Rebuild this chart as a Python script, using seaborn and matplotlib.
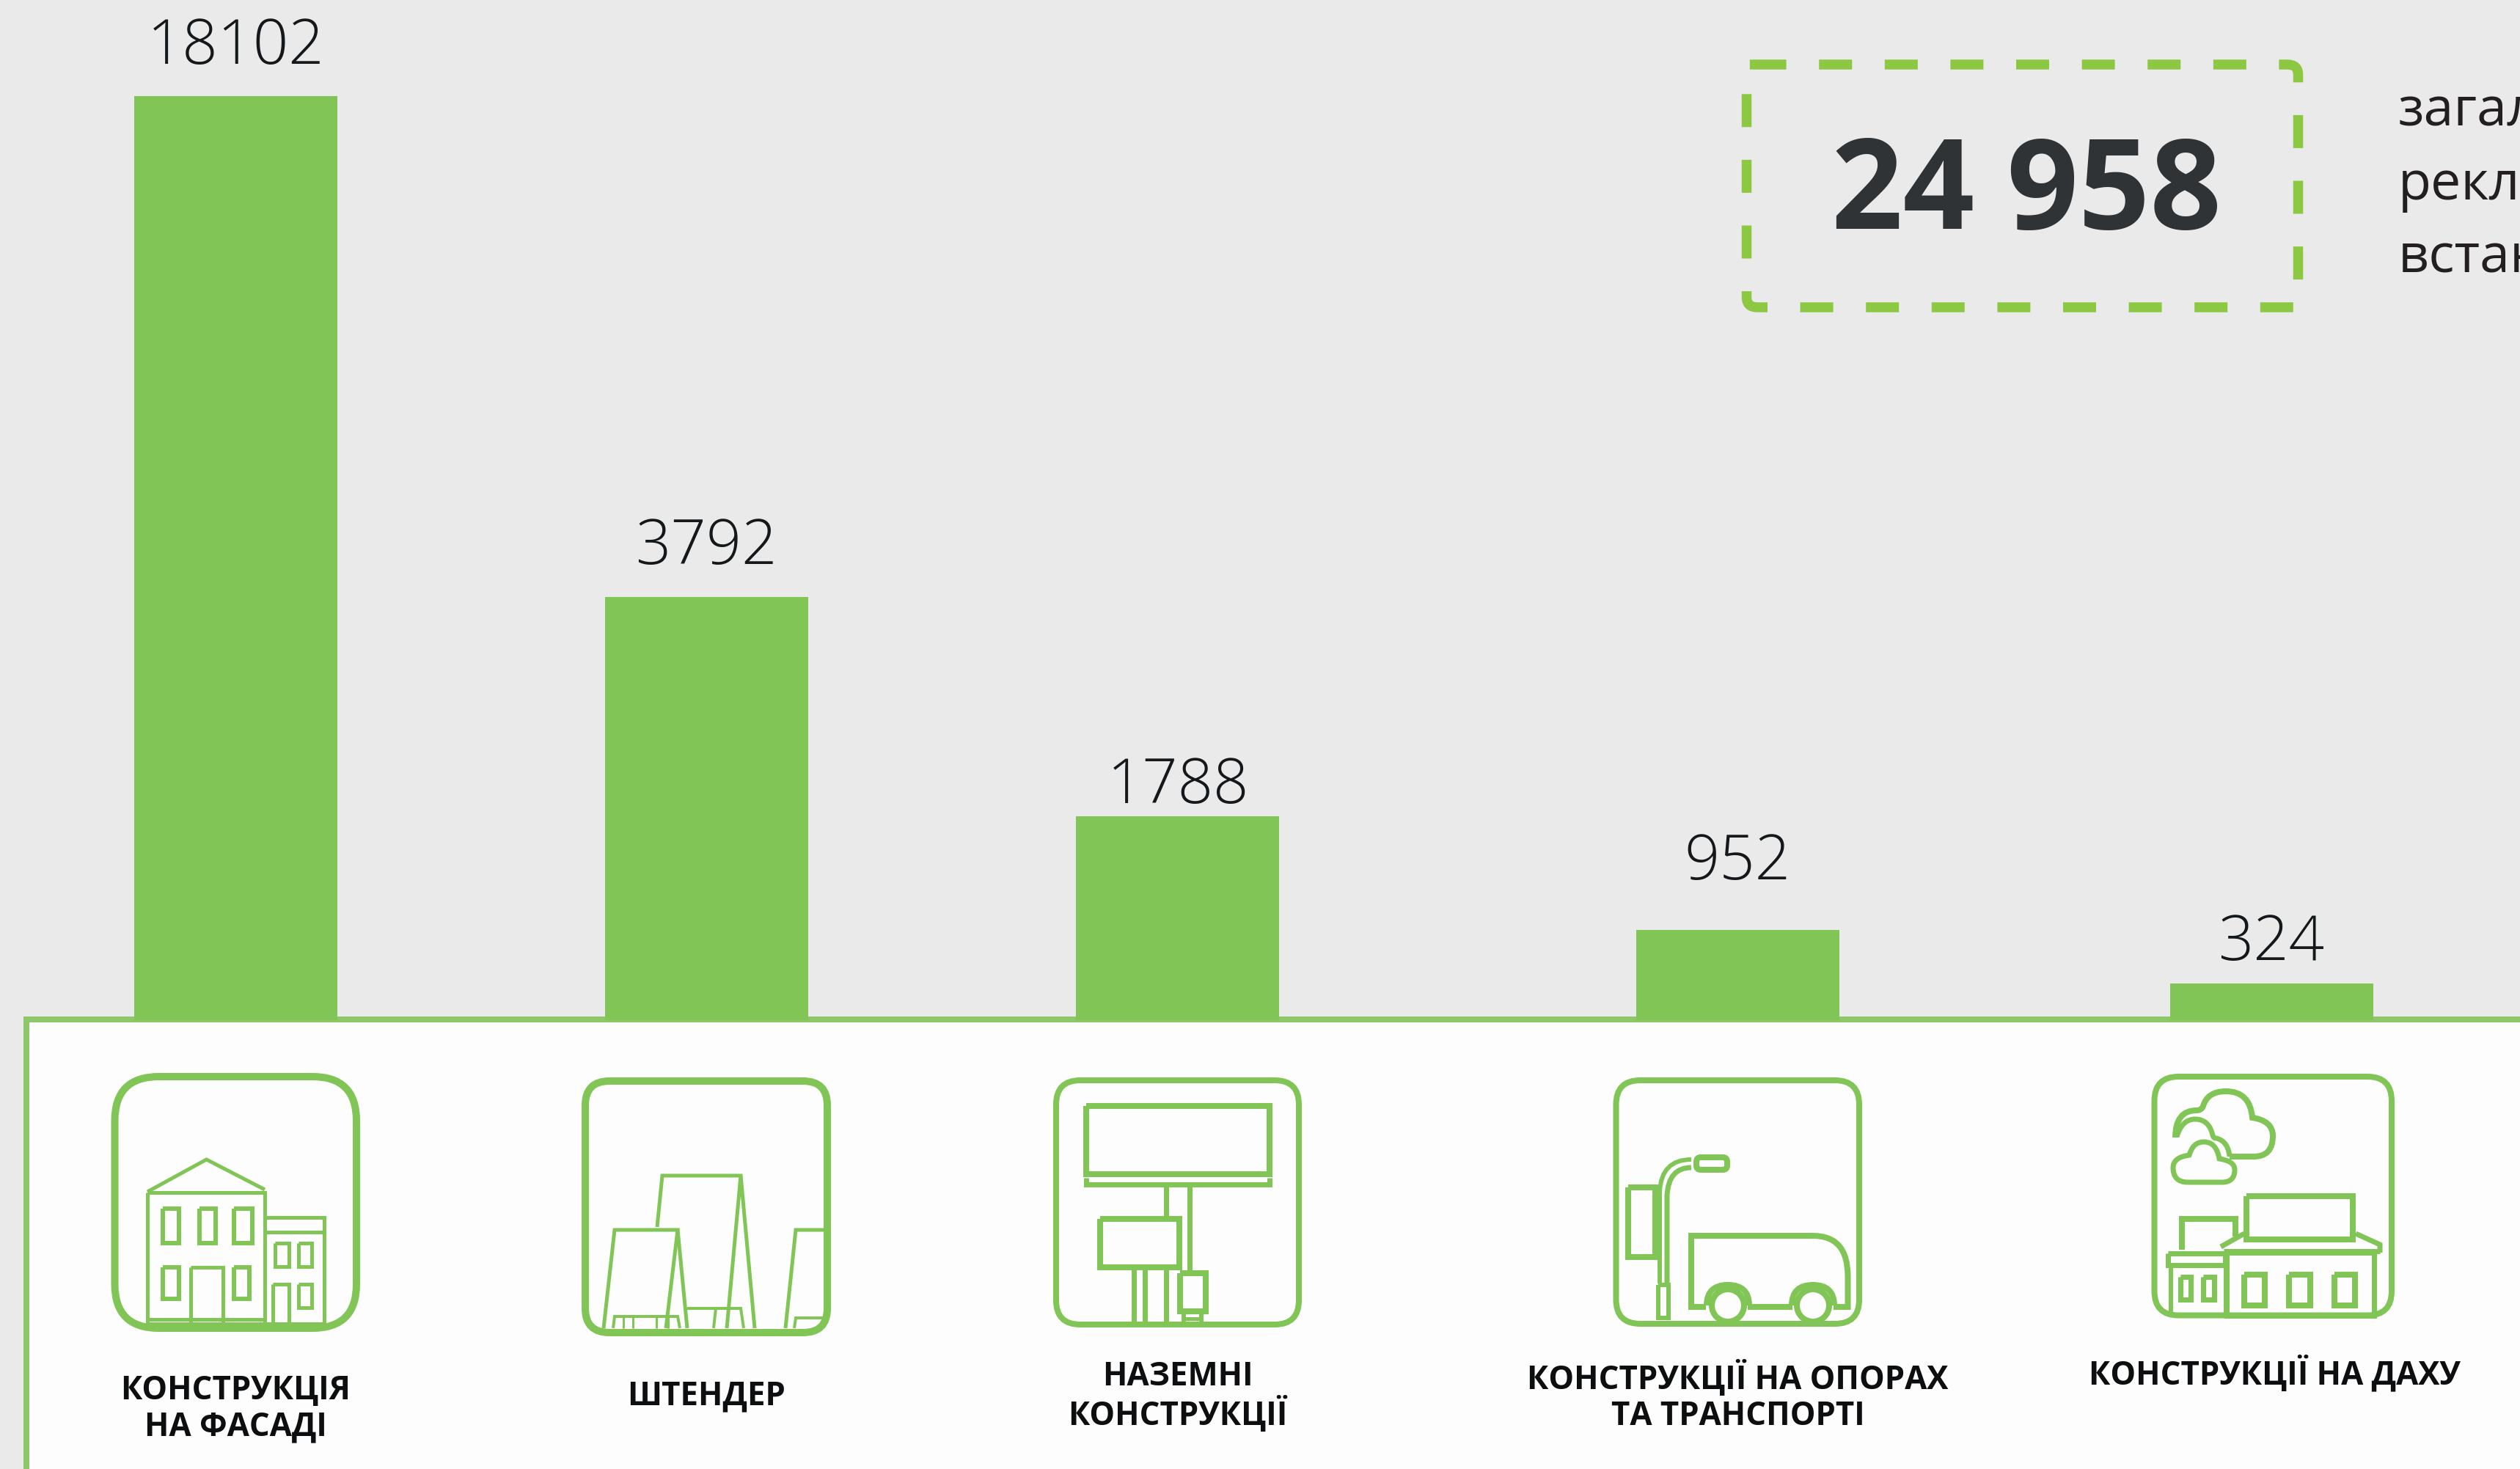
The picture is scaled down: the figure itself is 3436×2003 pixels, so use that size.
import matplotlib
matplotlib.use("Agg")
import matplotlib.pyplot as plt
from matplotlib.patches import Circle, FancyBboxPatch, PathPatch, Rectangle
from matplotlib.path import Path
import numpy as np
import pandas as pd
import seaborn as sns

# Data
categories = [
    "КОНСТРУКЦІЯ\nНА ФАСАДІ",
    "ШТЕНДЕР",
    "НАЗЕМНІ\nКОНСТРУКЦІЇ",
    "КОНСТРУКЦІЇ НА ОПОРАХ\nТА ТРАНСПОРТІ",
    "КОНСТРУКЦІЇ НА ДАХУ",
]
values = [18102, 3792, 1788, 952, 324]
total_label = "24 958"
# the reference crops these words at its right edge
side_text = ["загал", "рекл", "встан"]

# Layout (pixels of the 3437x2003 canvas)
W, H = 3437, 2003
BASE = 1391
bar_x = [321.5, 963.5, 1605.5, 2369.5, 3097.5]
value_x = [322, 963, 1607, 2369, 3097]
value_base = [87, 769, 1095, 1199, 1309]
label_x = [321.5, 963.5, 1605.5, 2369.5, 3101]
label_base = [1957, 1915, 1943, 1943, 1887]

# the bars in the original are not drawn to one linear scale
scale_vals = [0, 324, 952, 1788, 3792, 18102, 20500]
scale_px = [0, 50, 123, 278, 577, 1260, 1391]

GREEN = "#80c555"
BORDER = "#8cc86a"
BG = "#eaeaea"
DASH = "#8dc843"
FONT = ["Open Sans", "Noto Sans", "DejaVu Sans"]


def pt(v):
    return v * 0.72


sns.set_theme(style="white")
plt.rcParams["lines.scale_dashes"] = False
plt.rcParams["font.family"] = FONT

fig = plt.figure(figsize=(W / 100, H / 100), dpi=100, facecolor=BG)

# background layer in pixels: white panel, icons, labels
back = fig.add_axes([0, 0, 1, 1], zorder=0)
back.set_xlim(0, W)
back.set_ylim(H, 0)
back.axis("off")
back.add_patch(Rectangle((36, 1390), W, H, facecolor="#fdfdfd", edgecolor=BORDER, linewidth=pt(8)))


def poly(pts, lw=6, closed=False, color=GREEN, ax=back):
    pts = list(pts)
    if closed:
        pts = pts + [pts[0]]
    codes = [Path.MOVETO] + [Path.LINETO] * (len(pts) - 1)
    ax.add_patch(PathPatch(Path(pts, codes), fill=False, edgecolor=color, linewidth=pt(lw),
                           capstyle="butt", joinstyle="miter"))


def box(x0, y0, x1, y1, lw=7):
    poly([(x0, y0), (x1, y0), (x1, y1), (x0, y1)], lw, closed=True)


def frame(x0, y0, x1, y1, r, lw):
    back.add_patch(FancyBboxPatch((x0 + r, y0 + r), x1 - x0 - 2 * r, y1 - y0 - 2 * r,
                                  boxstyle=f"round,pad={r},rounding_size={r}",
                                  fill=False, edgecolor=GREEN, linewidth=pt(lw)))


def curve(start, *quads, lw=7):
    # quads are (control, end) pairs, a None control gives a straight piece
    pts, codes = [start], [Path.MOVETO]
    for ctrl, end in quads:
        if ctrl is None:
            pts.append(end)
            codes.append(Path.LINETO)
        else:
            pts += [ctrl, end]
            codes += [Path.CURVE3, Path.CURVE3]
    back.add_patch(PathPatch(Path(pts, codes), fill=False, edgecolor=GREEN, linewidth=pt(lw), capstyle="butt"))


def icon_facade():
    frame(156.5, 1468, 486, 1811, 60, 10)
    poly([(201, 1625), (281.5, 1581), (361, 1622)], 5)
    box(201, 1626, 361, 1805, 5)
    for x0, x1 in [(222, 244), (272, 294), (319, 344)]:
        box(x0, 1648, x1, 1695, 6)
    box(222, 1728, 244, 1771, 6)
    box(319, 1728, 340, 1771, 6)
    box(260, 1728, 304, 1805, 5)
    poly([(201, 1799), (361, 1799)], 5)
    box(361, 1660, 442, 1805, 5)
    poly([(361, 1680), (442, 1680)], 5)
    box(375, 1695, 394, 1727, 5)
    box(407, 1695, 425, 1727, 5)
    box(372, 1751, 394, 1805, 5)
    box(407, 1751, 425, 1783, 5)


def icon_stander():
    frame(798, 1474, 1128, 1817, 33, 10)
    poly([(896, 1673), (903, 1603), (1010, 1603), (1029, 1811)], 5)
    poly([(1010, 1603), (991, 1811)], 5)
    poly([(823, 1811), (838, 1677), (924, 1677), (908, 1811)], 5)
    poly([(924, 1677), (937, 1811)], 5)
    poly([(1071, 1811), (1085, 1677), (1125, 1677)], 5)
    poly([(836, 1811), (838, 1795), (924, 1795), (927, 1811)], 4)
    for x in (850, 863, 895, 911):
        poly([(x, 1795), (x, 1811)], 3)
    poly([(937, 1784), (1010, 1784), (1014, 1811)], 4)
    poly([(976, 1784), (973, 1811)], 4)
    poly([(1083, 1811), (1085, 1797), (1125, 1797)], 4)


def icon_ground():
    frame(1440, 1473, 1771, 1806, 33, 8)
    box(1481, 1508, 1731, 1601, 8)
    poly([(1481, 1606), (1481, 1615), (1731, 1615), (1731, 1606)], 7)
    poly([(1590, 1613), (1590, 1659)], 7)
    poly([(1622, 1613), (1622, 1733)], 7)
    box(1500, 1662, 1608, 1728, 8)
    for x in (1546, 1561, 1590):
        poly([(x, 1731), (x, 1808)], 7)
    box(1609, 1736, 1644, 1788, 8)
    poly([(1614, 1792), (1614, 1808)], 6)
    poly([(1638, 1792), (1638, 1808)], 6)
    poly([(1614, 1798), (1638, 1798)], 5)


def icon_support():
    frame(2203.5, 1473, 2535, 1805, 33, 8)
    box(2220, 1619, 2257, 1714, 8)
    curve((2263, 1750), (None, (2263, 1625)), ((2265, 1581), (2306, 1581)), lw=6)
    curve((2273, 1750), (None, (2273, 1630)), ((2275, 1592), (2306, 1592)), lw=7)
    back.add_patch(FancyBboxPatch((2319, 1584), 30, 5, boxstyle="round,pad=6,rounding_size=6",
                                  fill=False, edgecolor=GREEN, linewidth=pt(8)))
    box(2261, 1752, 2275, 1797, 6)
    curve((2326, 1782), (None, (2306, 1782)), (None, (2306, 1685)), (None, (2472, 1685)),
          ((2519.5, 1685), (2519.5, 1740)), (None, (2519.5, 1782)), (None, (2500, 1782)), lw=8)
    poly([(2383, 1782), (2444, 1782)], 8)
    for cx in (2356, 2472):
        back.add_patch(Circle((cx, 1780), 22, fill=True, facecolor="#fdfdfd", edgecolor=GREEN, linewidth=pt(8)))
        curve((cx - 29, 1780), ((cx - 29, 1752), (cx, 1752)), ((cx + 29, 1752), (cx + 29, 1780)), lw=8)


def icon_roof():
    frame(2937.5, 1468, 3261, 1793.5, 33, 8)
    # clouds
    curve((2966, 1551), ((2966, 1514), (2995, 1514)), ((3002, 1514), (3004, 1508)),
          ((3010, 1488), (3035, 1488)), ((3068, 1488), (3071, 1524)),
          ((3099, 1528), (3099, 1549)), ((3099, 1577), (3073, 1577)), (None, (3040, 1577)), lw=8)
    curve((2968, 1550), ((2975, 1526), (2993, 1526)), ((3012, 1526), (3017, 1548)),
          ((3018, 1552), (3022, 1552)), ((3038, 1556), (3040, 1577)), lw=7)
    curve((2983, 1612), ((2963, 1612), (2963, 1592)), ((2963, 1578), (2985, 1575)),
          ((2990, 1557), (3005, 1557)), ((3022, 1557), (3026, 1580)),
          ((3047, 1583), (3047, 1595)), ((3047, 1612), (3030, 1612)), (None, (2983, 1612)), lw=7)
    # boards and roof
    box(3063, 1631, 3208, 1690, 8)
    poly([(2975, 1704), (2975, 1662), (3048, 1662), (3048, 1686)], 8)
    poly([(3028, 1700), (3060, 1682)], 7)
    poly([(3212, 1682), (3245, 1697), (3245, 1708)], 7)
    poly([(3032, 1706), (3245, 1706)], 7)
    # buildings
    box(3036, 1708, 3237, 1794, 7)
    for x0, x1 in [(3060, 3088), (3121, 3150), (3183, 3211)]:
        box(x0, 1738, x1, 1780, 8)
    box(2956, 1709, 3034, 1725, 7)
    poly([(2960, 1729), (2960, 1794)], 6)
    poly([(3035, 1729), (3035, 1794)], 6)
    box(2973, 1741, 2987, 1772, 7)
    box(3004, 1741, 3019, 1772, 7)


icon_facade()
icon_stander()
icon_ground()
icon_support()
icon_roof()

# Bars
df = pd.DataFrame({"x": bar_x, "value": values})
ax = fig.add_axes([0, (H - BASE) / H, 1, BASE / H], zorder=1)
ax.patch.set_alpha(0)
sns.barplot(data=df, x="x", y="value", native_scale=True, width=277 / 642,
            color=GREEN, saturation=1, linewidth=0, ax=ax)
ax.set_yscale("function", functions=(lambda v: np.interp(v, scale_vals, scale_px),
                                     lambda p: np.interp(p, scale_px, scale_vals)))
ax.set_xlim(0, W)
ax.set_ylim(0, scale_vals[-1])
ax.axis("off")

# Texts sit on a top layer
top = fig.add_axes([0, 0, 1, 1], zorder=2)
top.patch.set_alpha(0)
top.set_xlim(0, W)
top.set_ylim(H, 0)
top.axis("off")

for x, y, v in zip(value_x, value_base, values):
    top.text(x, y, str(v), ha="center", va="baseline", fontsize=61, fontweight="light", color="#15181b")

for x, y, c in zip(label_x, label_base, categories):
    top.text(x, y, c, ha="center", va="baseline", fontsize=31.5, fontweight="bold",
             color="#0c0e10", linespacing=1.115)

# dashed total box
box_pts = [(2390.6, 88), (3119, 88), (3133.5, 88), (3133.5, 102), (3133.5, 419), (2396, 419),
           (2381.5, 419), (2381.5, 405), (2381.5, 88), (2390.6, 88)]
box_codes = [Path.MOVETO, Path.LINETO, Path.CURVE3, Path.CURVE3, Path.LINETO, Path.LINETO,
             Path.CURVE3, Path.CURVE3, Path.LINETO, Path.LINETO]
top.add_patch(PathPatch(Path(box_pts, box_codes), fill=False, edgecolor=DASH, linewidth=pt(13.5),
                        linestyle=(0, (pt(45), pt(44.6))), capstyle="butt"))
top.text(2763, 312, total_label, ha="center", va="baseline", fontsize=123, fontweight="bold", color="#2f3336")

for y, line in zip([171, 272, 372], side_text):
    top.text(3270, y, line, ha="left", va="baseline", fontsize=53, color="#231f20")

fig.savefig("out.png", dpi=100, facecolor=BG)
